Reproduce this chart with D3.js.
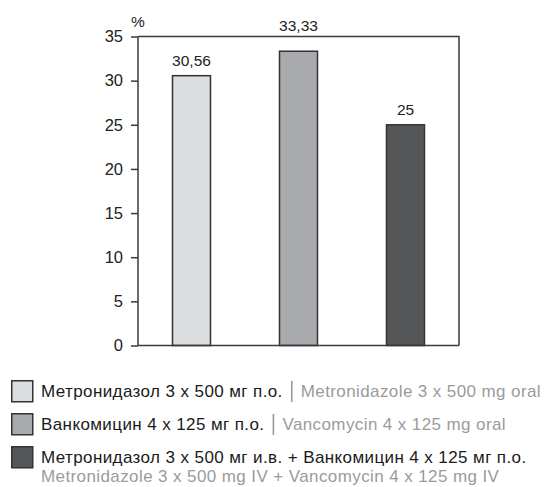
<!DOCTYPE html>
<html>
<head>
<meta charset="utf-8">
<script src="https://cdn.jsdelivr.net/npm/d3@7"></script>
<style>
  html, body { margin: 0; padding: 0; background: #fff; }
  svg { display: block; font-family: "Liberation Sans", Arial, sans-serif; }
</style>
</head>
<body>
<svg id="chart" width="549" height="487"></svg>
<script>
// Treatment groups and their rates (%)
const groups = ["metro_oral", "vanco_oral", "metro_iv_vanco"];
const values = [30.56, 33.33, 25];
const valueLabels = ["30,56", "33,33", "25"];
const colors = ["#dcdddf", "#a9aaad", "#555658"];
const yTicks = [0, 5, 10, 15, 20, 25, 30, 35];
const legendRu = [
  "Метронидазол 3 x 500 мг п.о.",
  "Ванкомицин 4 x 125 мг п.о.",
  "Метронидазол 3 x 500 мг и.в. + Ванкомицин 4 x 125 мг п.о."
];
const legendEn = [
  "Metronidazole 3 x 500 mg oral",
  "Vancomycin 4 x 125 mg oral",
  "Metronidazole 3 x 500 mg IV + Vancomycin 4 x 125 mg IV"
];

const svg = d3.select("#chart");
const plot = { left: 138, right: 459, top: 36.5, bottom: 345.5 };
const frameColor = "#3a3a3a";

const x = d3.scaleBand().domain(groups).range([plot.left, plot.right]).paddingInner(0.645).paddingOuter(0.3225);
const y = d3.scaleLinear().domain([0, 35]).range([plot.bottom, plot.top]);

// frame: top and right borders
svg.append("path")
  .attr("d", `M${plot.left},${plot.top}H${plot.right}V${plot.bottom}`)
  .attr("fill", "none").attr("stroke", frameColor).attr("stroke-width", 1.5);

// bars
svg.append("g").selectAll("rect").data(values).join("rect")
  .attr("x", (d, i) => x(groups[i]))
  .attr("y", d => y(d))
  .attr("width", x.bandwidth())
  .attr("height", d => y(0) - y(d))
  .attr("fill", (d, i) => colors[i])
  .attr("stroke", "#333").attr("stroke-width", 1.5);

// axes
const yAxis = svg.append("g").attr("transform", `translate(${plot.left},0)`)
  .call(d3.axisLeft(y).tickValues(yTicks).tickSize(7).tickPadding(8));
const xAxis = svg.append("g").attr("transform", `translate(0,${plot.bottom})`)
  .call(d3.axisBottom(x).tickSize(0).tickFormat(""));
[yAxis, xAxis].forEach(g => {
  g.select(".domain").attr("stroke", frameColor).attr("stroke-width", 1.5);
  g.selectAll(".tick line").attr("stroke", frameColor).attr("stroke-width", 1.5);
});
yAxis.select(".domain").attr("d", `M0,${plot.top}V${plot.bottom}`);
xAxis.select(".domain").attr("d", `M${plot.left},0H${plot.right}`);
yAxis.selectAll(".tick text").attr("font-size", 16.5).attr("fill", "#222")
  .attr("font-family", "Liberation Sans, Arial, sans-serif");

// unit label
svg.append("text").attr("x", 131).attr("y", 27).attr("font-size", 15.5).attr("fill", "#222").text("%");

// value labels; a label that would cross the frame goes above it
svg.append("g").selectAll("text").data(values).join("text")
  .attr("x", (d, i) => x(groups[i]) + x.bandwidth() / 2)
  .attr("y", d => {
    const yy = y(d) - 10;
    return (yy - 11 < plot.top) ? plot.top - 6 : yy;
  })
  .attr("text-anchor", "middle").attr("font-size", 15.5).attr("fill", "#222")
  .text((d, i) => valueLabels[i]);

// legend
const legendFont = 17;
const legendSpacing = 0.4;
const legend = svg.append("g").attr("transform", "translate(11,380)");
const rows = legend.selectAll("g").data(groups).join("g")
  .attr("transform", (d, i) => `translate(0,${i * 33})`);
rows.append("rect").attr("x", 0.75).attr("y", 0.75).attr("width", 21).attr("height", 21)
  .attr("fill", (d, i) => colors[i]).attr("stroke", "#333").attr("stroke-width", 1.5);
rows.each(function (d, i) {
  const row = d3.select(this);
  const ru = row.append("text").attr("x", 30).attr("y", 17)
    .attr("font-size", legendFont).attr("letter-spacing", legendSpacing)
    .attr("fill", "#1a1a1a").text(legendRu[i]);
  if (i < 2) {
    const end = 30 + ru.node().getComputedTextLength();
    row.append("line").attr("x1", end + 9).attr("x2", end + 9).attr("y1", 1).attr("y2", 22)
      .attr("stroke", "#9a9a9a").attr("stroke-width", 1.6);
    row.append("text").attr("x", end + 18).attr("y", 17)
      .attr("font-size", legendFont).attr("letter-spacing", legendSpacing)
      .attr("fill", "#9b9b9b").text(legendEn[i]);
  } else {
    row.append("text").attr("x", 30).attr("y", 36)
      .attr("font-size", legendFont).attr("letter-spacing", legendSpacing)
      .attr("fill", "#9b9b9b").text(legendEn[i]);
  }
});
</script>
</body>
</html>
